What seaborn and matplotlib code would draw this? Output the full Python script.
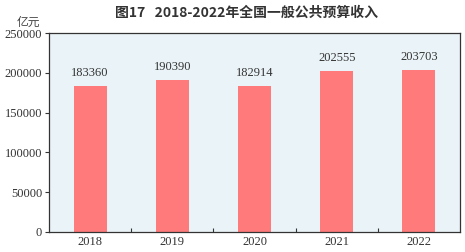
import matplotlib
matplotlib.use("Agg")
import matplotlib.pyplot as plt
import seaborn as sns
import pandas as pd

years = ["2018", "2019", "2020", "2021", "2022"]
values = [183360, 190390, 182914, 202555, 203703]
yticks = [0, 50000, 100000, 150000, 200000, 250000]
title = "图17   2018-2022年全国一般公共预算收入"
unit = "亿元"

sns.set_theme(style="ticks")
plt.rcParams['font.family'] = ['Liberation Serif', 'Noto Sans CJK SC']

df = pd.DataFrame({"year": years, "value": values})

fig = plt.figure(figsize=(4.65, 2.52), dpi=100)
ax = fig.add_axes([49/465, 1 - 232/252, 411/465, 199/252])
ax.set_facecolor("#eaf4f8")

sns.barplot(data=df, x="year", y="value", color="#ff7a7a", saturation=1,
            width=0.4, ax=ax, edgecolor="none", linewidth=0)

ax.set_xlim(-0.5, 4.5)
ax.set_ylim(0, 250000)
ax.set_yticks(yticks)
ax.set_yticklabels([str(t) for t in yticks], fontsize=9, color="#333333")
ax.set_xticks(range(len(years)))
ax.set_xticklabels(years, fontsize=9, color="#333333")
ax.tick_params(axis="x", length=0, pad=3)
ax.tick_params(axis="y", length=3, width=0.8, direction="out", pad=2, color="#333333")
ax.set_xticks([0.5, 1.5, 2.5, 3.5], minor=True)
ax.tick_params(axis="x", which="minor", length=3, width=0.8, direction="in", color="#333333")
ax.set_xlabel("")
ax.set_ylabel("")
for s in ax.spines.values():
    s.set_visible(True)
    s.set_color("#333333")
    s.set_linewidth(0.9)

for i, v in enumerate(values):
    ax.text(i, v + 9000, str(v), ha="center", va="bottom", fontsize=9, color="#333333")

fig.text(0.53, 1 - 13/252, title, ha="center", va="center", fontsize=10,
         family=['Noto Sans CJK SC'], fontweight="bold", color="#333333")
fig.text(28/465, 1 - 22/252, unit, ha="center", va="center", fontsize=8.5,
         family=['Noto Sans CJK SC'], color="#444444")

fig.savefig("out.png", dpi=100)
